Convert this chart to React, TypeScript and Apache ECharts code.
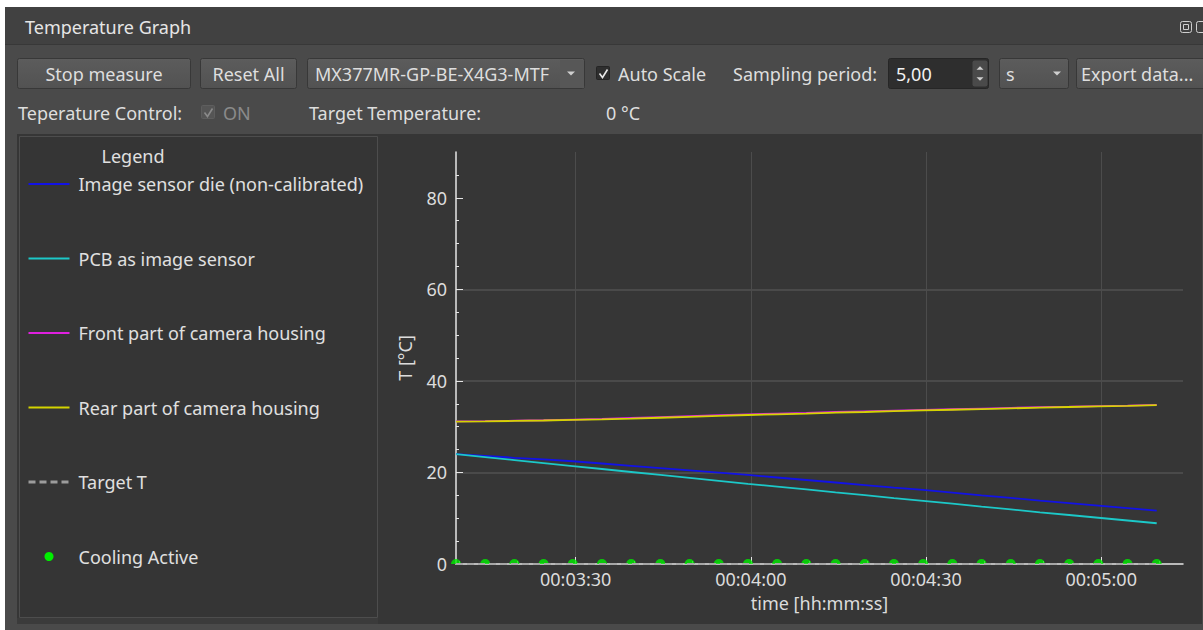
import React, { useEffect, useRef } from "react";
import * as echarts from "echarts";

// ---------- data ----------
const timeSeconds = [
  189.5, 194.5, 199.5, 204.5, 209.5, 214.5, 219.5, 224.5, 229.5, 234.5, 239.5, 244.5, 249.5,
  254.5, 259.5, 264.5, 269.5, 274.5, 279.5, 284.5, 289.5, 294.5, 299.5, 304.5, 309.5,
];
const sensorDie = [
  24.0, 23.6, 23.2, 22.85, 22.45, 21.95, 21.45, 20.95, 20.45, 19.95, 19.45, 18.9, 18.35,
  17.8, 17.25, 16.7, 16.2, 15.6, 15.0, 14.45, 13.85, 13.3, 12.75, 12.2, 11.65,
];
const pcbSensor = [
  24.0, 23.35, 22.7, 22.05, 21.4, 20.75, 20.1, 19.45, 18.8, 18.15, 17.5, 16.9, 16.3,
  15.65, 15.05, 14.4, 13.8, 13.2, 12.55, 11.95, 11.3, 10.7, 10.1, 9.5, 8.9,
];
const frontHousing = [
  31.15, 31.2, 31.3, 31.4, 31.55, 31.7, 31.9, 32.1, 32.3, 32.5, 32.7, 32.85, 33.0,
  33.2, 33.35, 33.5, 33.65, 33.8, 33.95, 34.1, 34.25, 34.35, 34.5, 34.6, 34.75,
];
const rearHousing = [
  31.1, 31.15, 31.25, 31.35, 31.5, 31.6, 31.75, 31.95, 32.15, 32.35, 32.55, 32.7, 32.85,
  33.05, 33.2, 33.4, 33.55, 33.7, 33.85, 34.0, 34.15, 34.3, 34.45, 34.55, 34.7,
];
const targetT = [0, 0, 0, 0, 0, 0, 0, 0, 0, 0, 0, 0, 0, 0, 0, 0, 0, 0, 0, 0, 0, 0, 0, 0, 0];
const coolingActive = [0, 0, 0, 0, 0, 0, 0, 0, 0, 0, 0, 0, 0, 0, 0, 0, 0, 0, 0, 0, 0, 0, 0, 0, 0];

const seriesNames = [
  "Image sensor die (non-calibrated)",
  "PCB as image sensor",
  "Front part of camera housing",
  "Rear part of camera housing",
  "Target T",
  "Cooling Active",
];
const seriesColors = ["#1212e6", "#1cc8c8", "#e020e0", "#d4d400", "#a6a6a6", "#00ee00"];

const xMin = 189.5;
const xMax = 314;
const xTickValues = [210, 240, 270, 300];
const xMinorTickValues = [190, 200, 220, 230, 250, 260, 280, 290, 310];
const yMin = 0;
const yMax = 90;
const yTickValues = [0, 20, 40, 60, 80];
const yMinorTickValues = [5, 10, 15, 25, 30, 35, 45, 50, 55, 65, 70, 75, 85];

const FONT = "'Noto Sans', 'Open Sans', sans-serif";
const UI_SIZE = 18;

const pad2 = (n: number) => String(Math.floor(n)).padStart(2, "0");
const fmtTime = (s: number) => `${pad2(s / 3600)}:${pad2((s % 3600) / 60)}:${pad2(s % 60)}`;

const zip = (vals: number[]) => timeSeconds.map((t, i) => [t, vals[i]]);

// ---------- UI chrome helpers ----------
const txt = (text: string, x: number, y: number, o: any = {}) => ({
  type: "text",
  x,
  y,
  z: o.z || 50,
  style: {
    text,
    fill: o.fill || "#dedede",
    fontSize: o.size || UI_SIZE,
    fontFamily: FONT,
    align: o.align || "left",
    verticalAlign: "middle",
  },
});
const box = (x: number, y: number, w: number, h: number, fill: any, stroke?: string, r = 0, z = 1) => ({
  type: "rect",
  z,
  shape: { x, y, width: w, height: h, r },
  style: { fill, stroke: stroke || null, lineWidth: 1 },
});
const tri = (cx: number, cy: number, up = false, fill = "#cfcfcf", s = 4) => ({
  type: "polygon",
  z: 61,
  shape: {
    points: up
      ? [[cx - s, cy + s / 2], [cx + s, cy + s / 2], [cx, cy - s / 2]]
      : [[cx - s, cy - s / 2], [cx + s, cy - s / 2], [cx, cy + s / 2]],
  },
  style: { fill },
});
const check = (x: number, y: number, color: string) => ({
  type: "polyline",
  z: 51,
  shape: { points: [[x + 3, y + 7], [x + 6, y + 11], [x + 11, y + 3]] },
  style: { stroke: color, lineWidth: 1.6, fill: null },
});

const buttonFill = () =>
  new echarts.graphic.LinearGradient(0, 0, 0, 1, [
    { offset: 0, color: "#5c5c5c" },
    { offset: 1, color: "#525252" },
  ]);

const graphics: any[] = [
  // page white + window frame
  box(0, 0, 1203, 630, "#ffffff", undefined, 0, -20),
  box(5, 7, 1198, 623, "#4a4a4a", undefined, 0, -19),
  // title bar
  box(5, 7, 1198, 37, "#414141", undefined, 0, -18),
  { type: "line", z: -17, shape: { x1: 5, y1: 44.5, x2: 1203, y2: 44.5 }, style: { stroke: "#383838", lineWidth: 1 } },
  txt("Temperature Graph", 25, 27, { fill: "#e6e6e6" }),
  box(1180.5, 21.5, 11, 11, "#414141", "#cfcfcf", 2, 10),
  box(1183.5, 24.5, 5, 5, "#414141", "#cfcfcf", 0, 11),
  box(1196.5, 21.5, 11, 11, "#414141", "#cfcfcf", 2, 10),
  // buttons row
  box(17.5, 58.5, 173, 30, buttonFill(), "#383838", 2, 10),
  txt("Stop measure", 104, 73.5, { align: "center" }),
  box(200.5, 58.5, 96, 30, buttonFill(), "#383838", 2, 10),
  txt("Reset All", 248.5, 73.5, { align: "center" }),
  box(307.5, 58.5, 277, 30, buttonFill(), "#383838", 2, 10),
  txt("MX377MR-GP-BE-X4G3-MTF", 315, 73.5),
  box(560, 60, 24, 28, "#575757", undefined, 0, 60),
  tri(571, 73.5),
  box(596.5, 66.5, 13, 13, "#2e2e2e", "#242424", 1, 10),
  check(596.5, 66.5, "#e8e8e8"),
  txt("Auto Scale", 618, 73.5),
  txt("Sampling period:", 733, 73.5),
  box(888.5, 58.5, 100, 30, "#2e2e2e", "#262626", 2, 10),
  txt("5,00", 896, 73.5, { fill: "#f2f2f2" }),
  box(972.5, 60.5, 15, 26, "#4a4a4a", undefined, 2, 11),
  tri(980, 68, true, "#cfcfcf", 3.5),
  tri(980, 79, false, "#cfcfcf", 3.5),
  box(999.5, 58.5, 69, 30, buttonFill(), "#383838", 2, 10),
  txt("s", 1006, 73.5),
  tri(1057, 73.5),
  box(1076.5, 58.5, 130, 30, buttonFill(), "#383838", 2, 10),
  txt("Export data...", 1081, 73.5),
  // second row
  txt("Teperature Control:", 18, 112.5),
  box(201.5, 105.5, 13, 13, "#555555", "#5e5e5e", 1, 10),
  check(201.5, 105.5, "#8a8a8a"),
  txt("ON", 223, 112.5, { fill: "#8a8a8a" }),
  txt("Target Temperature:", 309, 112.5),
  txt("0 °C", 606, 112.5),
  // chart area background
  box(17, 134, 1185, 490, "#363636", undefined, 0, -16),
  { type: "line", z: -15, shape: { x1: 1202.5, y1: 134, x2: 1202.5, y2: 624 }, style: { stroke: "#4a4a4a", lineWidth: 1 } },
  // legend panel
  box(19.5, 136.5, 358, 481, "#353535", "#4d4d4d", 0, -14),
  box(17, 618, 361, 6, "#3b3b3b", undefined, 0, -14),
  txt("Legend", 133, 156, { align: "center", fill: "#e0e0e0" }),
];

export default function App() {
  const ref = useRef<HTMLDivElement>(null);

  useEffect(() => {
    if (!ref.current) return;
    const chart = echarts.init(ref.current, null, { renderer: "svg" });

    const axisTextColor = "#dcdcdc";
    const axisLineColor = "#e6e6e6";

    const option: any = {
      animation: false,
      backgroundColor: "#ffffff",
      textStyle: { fontFamily: FONT },
      graphic: graphics,
      grid: { left: 456, top: 152, width: 727, height: 412, containLabel: false },
      legend: {
        orient: "vertical",
        left: 27,
        top: 174,
        padding: 0,
        itemWidth: 41,
        itemHeight: 9,
        itemGap: 54.5,
        selectedMode: false,
        itemStyle: { opacity: 0 },
        textStyle: { color: "#e0e0e0", fontSize: UI_SIZE, fontFamily: FONT, lineHeight: 20, padding: [0, 0, 0, 4] },
        data: [
          { name: seriesNames[0] },
          { name: seriesNames[1] },
          { name: seriesNames[2] },
          { name: seriesNames[3] },
          { name: seriesNames[4], lineStyle: { width: 3, type: [7, 4], color: "#9c9c9c" } },
          { name: seriesNames[5], icon: "circle", itemStyle: { opacity: 1, color: seriesColors[5] } },
        ],
      },
      xAxis: [
        {
          type: "value",
          min: xMin,
          max: xMax,
          position: "bottom",
          name: "time [hh:mm:ss]",
          nameLocation: "middle",
          nameGap: 30,
          nameTextStyle: { color: axisTextColor, fontSize: UI_SIZE, fontFamily: FONT },
          axisLine: { show: true, onZero: false, lineStyle: { color: axisLineColor, width: 1.5 } },
          axisTick: { show: true, inside: true, length: 7, customValues: xTickValues, lineStyle: { color: axisLineColor } },
          axisLabel: {
            customValues: xTickValues,
            color: axisTextColor,
            fontSize: 18,
            fontFamily: FONT,
            margin: 6,
            formatter: (v: number) => fmtTime(v),
          },
          splitLine: { show: true, lineStyle: { color: "#4c4c4c", width: 1 } },
        },
        {
          type: "value",
          min: xMin,
          max: xMax,
          position: "bottom",
          axisLine: { show: false },
          axisLabel: { show: false },
          splitLine: { show: false },
          axisTick: { show: true, inside: true, length: 3, customValues: xMinorTickValues, lineStyle: { color: axisLineColor } },
        },
      ],
      yAxis: [
        {
          type: "value",
          min: yMin,
          max: yMax,
          position: "left",
          name: "T [°C]",
          nameLocation: "middle",
          nameGap: 42,
          nameTextStyle: { color: axisTextColor, fontSize: UI_SIZE, fontFamily: FONT },
          axisLine: { show: true, onZero: false, lineStyle: { color: axisLineColor, width: 1.5 } },
          axisTick: { show: true, inside: true, length: 7, customValues: yTickValues, lineStyle: { color: axisLineColor } },
          axisLabel: { customValues: yTickValues, color: axisTextColor, fontSize: 18, fontFamily: FONT, margin: 9 },
          splitLine: { show: true, showMinLine: false, showMaxLine: false, lineStyle: { color: "#4a4a4a", width: 2 } },
        },
        {
          type: "value",
          min: yMin,
          max: yMax,
          position: "left",
          axisLine: { show: false },
          axisLabel: { show: false },
          splitLine: { show: false },
          axisTick: { show: true, inside: true, length: 3, customValues: yMinorTickValues, lineStyle: { color: axisLineColor } },
        },
      ],
      series: [
        {
          name: seriesNames[0],
          type: "line",
          data: zip(sensorDie),
          symbol: "none",
          color: seriesColors[0],
          lineStyle: { width: 1.8, color: seriesColors[0] },
        },
        {
          name: seriesNames[1],
          type: "line",
          data: zip(pcbSensor),
          symbol: "none",
          color: seriesColors[1],
          lineStyle: { width: 1.8, color: seriesColors[1] },
        },
        {
          name: seriesNames[2],
          type: "line",
          data: zip(frontHousing),
          symbol: "none",
          color: seriesColors[2],
          lineStyle: { width: 1.8, color: seriesColors[2] },
        },
        {
          name: seriesNames[3],
          type: "line",
          data: zip(rearHousing),
          symbol: "none",
          color: seriesColors[3],
          lineStyle: { width: 1.8, color: seriesColors[3] },
        },
        {
          name: seriesNames[4],
          type: "line",
          data: zip(targetT),
          symbol: "none",
          color: seriesColors[4],
          clip: false,
          lineStyle: { width: 2, color: seriesColors[4], type: [7, 4] },
        },
        {
          name: seriesNames[5],
          type: "scatter",
          data: zip(coolingActive),
          symbol: "path://M0 10 A10 10 0 0 1 20 10 Z",
          symbolSize: [10, 5],
          symbolOffset: [0, "-50%"],
          clip: false,
          color: seriesColors[5],
          itemStyle: { color: seriesColors[5] },
        },
      ],
    };

    chart.setOption(option);
    return () => chart.dispose();
  }, []);

  return (
    <div
      ref={ref}
      style={{ position: "fixed", left: 0, top: 0, width: 1203, height: 630 }}
    />
  );
}
